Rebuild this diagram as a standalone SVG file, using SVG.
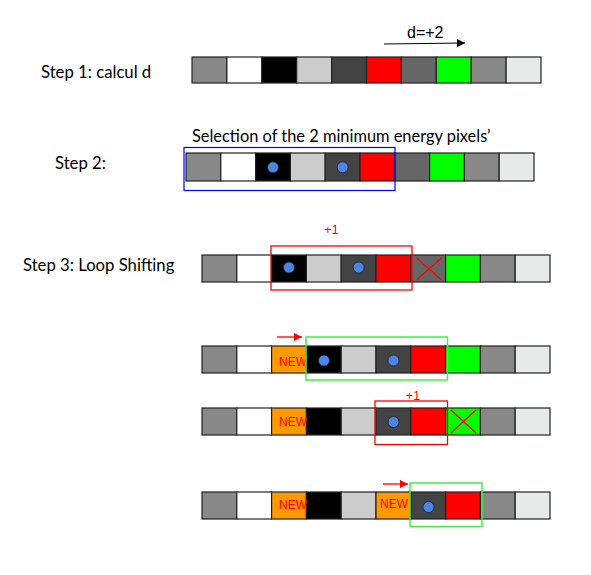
<svg xmlns="http://www.w3.org/2000/svg" width="591" height="575" viewBox="0 0 591 575">
<style>
.lbl{font-family:Lato,"Noto Sans",sans-serif;font-size:16.7px;font-weight:400;fill:#000}
.sel{font-size:16.4px}
.c{stroke:#222;stroke-width:1.2}
.g1{fill:#888888}.wh{fill:#ffffff}.bk{fill:#000000}.lg{fill:#cccccc}.dk{fill:#434343}.rd{fill:#ff0000}.g2{fill:#666666}.gr{fill:#00ff00}.lt{fill:#e8eaea}.or{fill:#ff9900}
.dot{fill:#4a86e8;stroke:#222;stroke-width:0.8}
.new{font-family:"Liberation Sans",Arial,sans-serif;font-size:12px;fill:#ff0000}
.p1{font-family:"Liberation Sans",Arial,sans-serif;font-size:12.5px;fill:#ff0000;text-anchor:middle}
.x{stroke:#ff0000;stroke-width:1.3}
.rbox{fill:none;stroke:#ff0000;stroke-width:1.3}
.gbox{fill:none;stroke:#44ee44;stroke-width:1.5}
.bbox{fill:none;stroke:#0000ff;stroke-width:1.2}
.rarr{stroke:#ff0000;stroke-width:1.3}
</style>
<defs>
<marker id="ah" viewBox="0 0 10 10" refX="10" refY="5" markerWidth="13" markerHeight="8" markerUnits="userSpaceOnUse" orient="auto"><path d="M0,0L10,5L0,10z" fill="#000"/></marker>
<marker id="ahr" viewBox="0 0 10 10" refX="10" refY="5" markerWidth="12" markerHeight="8" markerUnits="userSpaceOnUse" orient="auto"><path d="M0,0L10,5L0,10z" fill="#ff0000"/></marker>
</defs>

<g id="labels">
<text class="lbl" x="41" y="78">Step 1: calcul d</text>
<text class="lbl" x="55" y="169">Step 2:</text>
<text class="lbl" x="23" y="271">Step 3: Loop Shifting</text>
<text class="lbl sel" x="192" y="142">Selection of the 2 minimum energy pixels’</text>
<text x="407" y="38" style="font-family:'Liberation Sans',Arial,sans-serif;font-size:16px;fill:#000">d=+2</text>
</g>

<g id="connectors">
<line x1="384" y1="44" x2="465" y2="43" stroke="#000" stroke-width="1.2" marker-end="url(#ah)"/>
<line class="rarr" x1="277" y1="337" x2="302" y2="337" marker-end="url(#ahr)"/>
<line class="rarr" x1="383" y1="484" x2="408" y2="484" marker-end="url(#ahr)"/>
</g>

<g id="row1">
<rect class="c g1" x="192" y="57" width="34.9" height="26"/>
<rect class="c wh" x="226.9" y="57" width="34.9" height="26"/>
<rect class="c bk" x="261.8" y="57" width="34.9" height="26"/>
<rect class="c lg" x="296.7" y="57" width="34.9" height="26"/>
<rect class="c dk" x="331.6" y="57" width="34.9" height="26"/>
<rect class="c rd" x="366.5" y="57" width="34.9" height="26"/>
<rect class="c g2" x="401.4" y="57" width="34.9" height="26"/>
<rect class="c gr" x="436.3" y="57" width="34.9" height="26"/>
<rect class="c g1" x="471.2" y="57" width="34.9" height="26"/>
<rect class="c lt" x="506.1" y="57" width="34.9" height="26"/>
</g>

<g id="row2">
<rect class="c g1" x="186" y="153" width="34.8" height="28"/>
<rect class="c wh" x="220.8" y="153" width="34.8" height="28"/>
<rect class="c bk" x="255.6" y="153" width="34.8" height="28"/>
<rect class="c lg" x="290.4" y="153" width="34.8" height="28"/>
<rect class="c dk" x="325.2" y="153" width="34.8" height="28"/>
<rect class="c rd" x="360" y="153" width="34.8" height="28"/>
<rect class="c g2" x="394.8" y="153" width="34.8" height="28"/>
<rect class="c gr" x="429.6" y="153" width="34.8" height="28"/>
<rect class="c g1" x="464.4" y="153" width="34.8" height="28"/>
<rect class="c lt" x="499.2" y="153" width="34.8" height="28"/>
<circle class="dot" cx="273" cy="167.3" r="5.5"/>
<circle class="dot" cx="342.6" cy="167.3" r="5.5"/>
<rect class="bbox" x="184" y="147.5" width="211" height="43"/>
</g>

<g id="row3">
<rect class="c g1" x="202" y="255" width="34.8" height="27"/>
<rect class="c wh" x="236.8" y="255" width="34.8" height="27"/>
<rect class="c bk" x="271.6" y="255" width="34.8" height="27"/>
<rect class="c lg" x="306.4" y="255" width="34.8" height="27"/>
<rect class="c dk" x="341.2" y="255" width="34.8" height="27"/>
<rect class="c rd" x="376" y="255" width="34.8" height="27"/>
<rect class="c g2" x="410.8" y="255" width="34.8" height="27"/>
<rect class="c gr" x="445.6" y="255" width="34.8" height="27"/>
<rect class="c g1" x="480.4" y="255" width="34.8" height="27"/>
<rect class="c lt" x="515.2" y="255" width="34.8" height="27"/>
<circle class="dot" cx="289" cy="267.5" r="5.5"/>
<circle class="dot" cx="358.6" cy="267.5" r="5.5"/>
<line class="x" x1="416.5" y1="258" x2="441.5" y2="280"/>
<line class="x" x1="441.5" y1="258" x2="416.5" y2="280"/>
<rect class="rbox" x="271" y="246" width="141" height="44"/>
<text class="p1" x="331.5" y="234">+1</text>
</g>

<g id="row4">
<rect class="c g1" x="202" y="346" width="34.8" height="27"/>
<rect class="c wh" x="236.8" y="346" width="34.8" height="27"/>
<rect class="c or" x="271.6" y="346" width="34.8" height="27"/>
<rect class="c bk" x="306.4" y="346" width="34.8" height="27"/>
<rect class="c lg" x="341.2" y="346" width="34.8" height="27"/>
<rect class="c dk" x="376" y="346" width="34.8" height="27"/>
<rect class="c rd" x="410.8" y="346" width="34.8" height="27"/>
<rect class="c gr" x="445.6" y="346" width="34.8" height="27"/>
<rect class="c g1" x="480.4" y="346" width="34.8" height="27"/>
<rect class="c lt" x="515.2" y="346" width="34.8" height="27"/>
<text class="new" x="279" y="365.5">NEW</text>
<circle class="dot" cx="324" cy="360.5" r="5.5"/>
<circle class="dot" cx="393.5" cy="360.5" r="5.5"/>
<rect class="gbox" x="306" y="337" width="141.5" height="43"/>
</g>

<g id="row5">
<rect class="c g1" x="202" y="408" width="34.8" height="27"/>
<rect class="c wh" x="236.8" y="408" width="34.8" height="27"/>
<rect class="c or" x="271.6" y="408" width="34.8" height="27"/>
<rect class="c bk" x="306.4" y="408" width="34.8" height="27"/>
<rect class="c lg" x="341.2" y="408" width="34.8" height="27"/>
<rect class="c dk" x="376" y="408" width="34.8" height="27"/>
<rect class="c rd" x="410.8" y="408" width="34.8" height="27"/>
<rect class="c gr" x="445.6" y="408" width="34.8" height="27"/>
<rect class="c g1" x="480.4" y="408" width="34.8" height="27"/>
<rect class="c lt" x="515.2" y="408" width="34.8" height="27"/>
<text class="new" x="279" y="425.5">NEW</text>
<circle class="dot" cx="393.5" cy="422" r="5.5"/>
<line class="x" x1="451" y1="410" x2="476" y2="433"/>
<line class="x" x1="476" y1="410" x2="451" y2="433"/>
<rect class="rbox" x="375" y="401" width="72.5" height="43.5"/>
<text class="p1" x="413" y="400">+1</text>
</g>

<g id="row6">
<rect class="c g1" x="202" y="492" width="34.8" height="27"/>
<rect class="c wh" x="236.8" y="492" width="34.8" height="27"/>
<rect class="c or" x="271.6" y="492" width="34.8" height="27"/>
<rect class="c bk" x="306.4" y="492" width="34.8" height="27"/>
<rect class="c lg" x="341.2" y="492" width="34.8" height="27"/>
<rect class="c or" x="376" y="492" width="34.8" height="27"/>
<rect class="c dk" x="410.8" y="492" width="34.8" height="27"/>
<rect class="c rd" x="445.6" y="492" width="34.8" height="27"/>
<rect class="c g1" x="480.4" y="492" width="34.8" height="27"/>
<rect class="c lt" x="515.2" y="492" width="34.8" height="27"/>
<text class="new" x="279" y="509">NEW</text>
<text class="new" x="380" y="508">NEW</text>
<circle class="dot" cx="428.5" cy="507" r="5.5"/>
<rect class="gbox" x="410" y="483" width="72" height="43.5"/>
</g>
</svg>
